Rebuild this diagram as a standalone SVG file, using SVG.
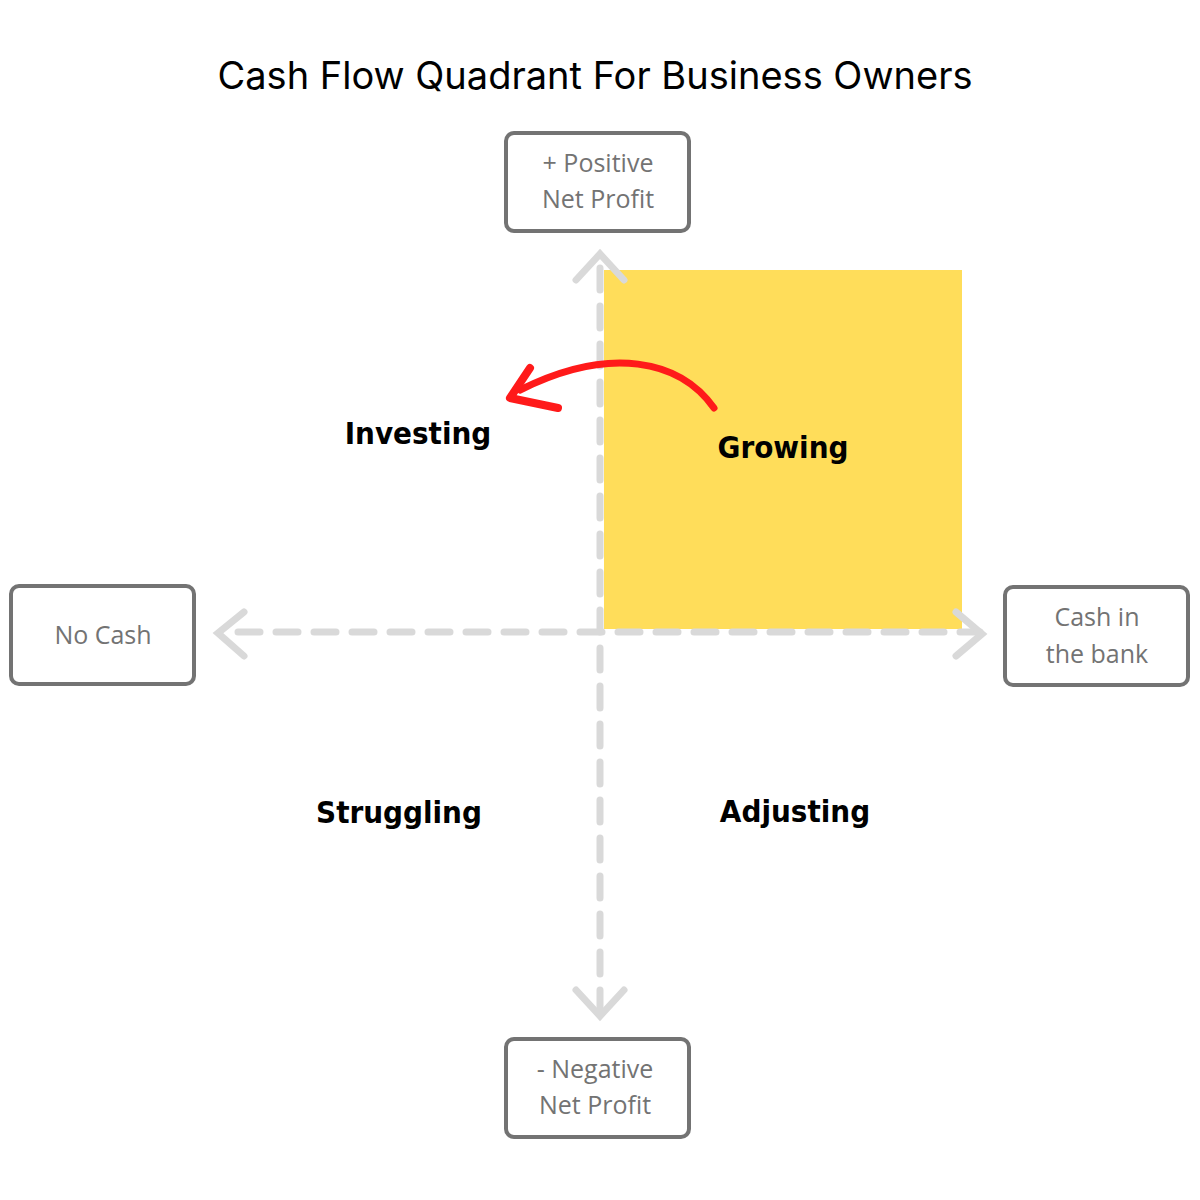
<svg xmlns="http://www.w3.org/2000/svg" width="1200" height="1200" viewBox="0 0 1200 1200">
<style>
.box{fill:#fff;stroke:#737373;stroke-width:4}
.bt{font-family:"Open Sans",sans-serif;font-size:25px;fill:#737373;text-anchor:middle}
.ql{font-family:"DejaVu Sans Condensed","DejaVu Sans",sans-serif;font-weight:bold;font-size:31px;fill:#000;text-anchor:middle}
.ax{stroke:#d9d9d9;stroke-width:7;fill:none;stroke-linecap:round}
</style>
<rect width="1200" height="1200" fill="#fff"/>
<text x="595" y="89" font-family="Inter, sans-serif" font-size="38" text-anchor="middle" fill="#000">Cash Flow Quadrant For Business Owners</text>
<rect id="growing-area" x="604" y="270" width="358" height="359" fill="#ffdd5a"/>
<g id="connectors">
<path class="ax" d="M600 268 L600 1012" stroke-dasharray="22 16"/>
<path class="ax" d="M238 632 L980 632" stroke-dasharray="22 16"/>
<path class="ax" d="M576 280 L600 254 L624 280"/>
<path class="ax" d="M576 990 L600 1016 L624 990"/>
<path class="ax" d="M244 612 L218 633 L244 656"/>
<path class="ax" d="M956 612 L982 634 L956 656"/>
<path d="M714 408 C680 360 610 345 520 390" stroke="#ff1a1a" stroke-width="7" fill="none" stroke-linecap="round"/>
<path d="M530 368 L510 398 L558 408" stroke="#ff1a1a" stroke-width="8" fill="none" stroke-linecap="round" stroke-linejoin="round"/>
</g>
<g id="top"><rect class="box" x="506" y="133" width="183" height="98" rx="8"/><text class="bt" x="598" y="172">+ Positive</text><text class="bt" x="598" y="208">Net Profit</text></g>
<g id="bottom"><rect class="box" x="506" y="1039" width="183" height="98" rx="8"/><text class="bt" x="595" y="1078">- Negative</text><text class="bt" x="595" y="1114">Net Profit</text></g>
<g id="left"><rect class="box" x="11" y="586" width="183" height="98" rx="8"/><text class="bt" x="103" y="644">No Cash</text></g>
<g id="right"><rect class="box" x="1005" y="587" width="183" height="98" rx="8"/><text class="bt" x="1097" y="626">Cash in</text><text class="bt" x="1097" y="663">the bank</text></g>
<g id="labels">
<text class="ql" x="418" y="444">Investing</text>
<text class="ql" x="783" y="458">Growing</text>
<text class="ql" x="399" y="823">Struggling</text>
<text class="ql" x="795" y="822">Adjusting</text>
</g>
</svg>
